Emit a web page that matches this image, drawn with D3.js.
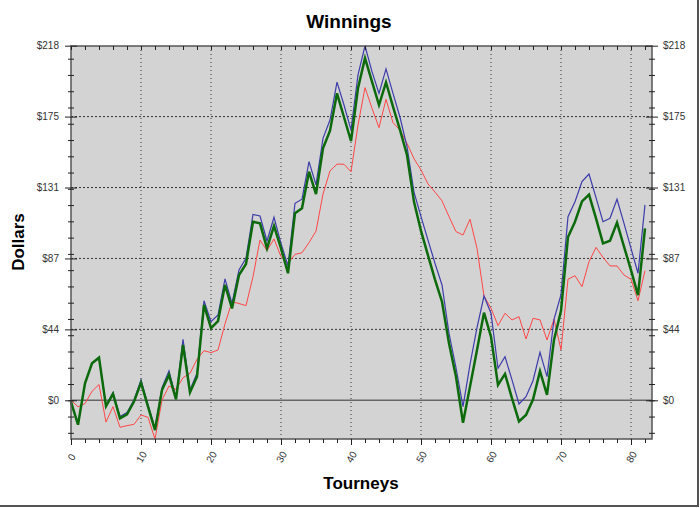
<!DOCTYPE html>
<html><head><meta charset="utf-8">
<script src="https://cdn.jsdelivr.net/npm/d3@7/dist/d3.min.js"></script>
<style>
body{margin:0;background:#fff}
svg{display:block}
text{font-family:"Liberation Sans",Arial,Helvetica,sans-serif}
</style>
</head><body>
<svg id="c" width="700" height="508"></svg>
<script>
// ---- data ----
const blueSeries = [-1,-15,10.4,22.7,26.2,-3.2,4.7,-10,-7.6,0.2,12.5,-2.9,-17.2,7.7,18,1.2,37.5,6.3,16.6,61.2,48.3,52.4,74.6,59.6,80.1,87.3,114.3,113.3,97.9,112.5,96.5,82.6,121.1,123.6,146.7,132.4,161,172.3,195.6,181.5,166.2,200,217.8,202,188.7,203.7,188.7,174,155.9,128,112.9,98.5,84.2,70.9,41.2,20,-3.9,22,44.6,64.1,53.5,19.7,26.8,12.5,-2.3,2.2,12,29.5,14.5,49.8,65,112.9,122.1,134.4,139.1,124.6,109.8,111.9,123.6,108.8,93.4,78.1,120.1];
const greenSeries = [-1,-15,10.4,22.7,26.2,-3.7,3.9,-11.1,-8.6,-0.8,10.8,-3.9,-18.3,6.3,15.6,0.6,34,4.9,14.5,58.6,44.3,48.7,70.9,56.5,77,83.8,109.8,108.8,93.4,107.2,93.4,78.1,115,118,140.5,126.8,154.9,165.7,188.7,174,159.4,191.8,210.3,195.9,181.5,195.5,180.5,166.2,150.8,122,104.1,89.1,74.2,60.6,35,14.5,-13.8,8.4,30.9,53.9,39.1,9.4,16.2,1.2,-13,-9,0.4,17.9,3.3,37.1,55,100.4,109.8,122.3,126.4,111.8,96.5,98.1,109.2,94.5,80,64.7,105.7];
const redSeries = [0,-4,-2,5.5,9.7,-13.4,-3.9,-16.6,-15.6,-14.8,-9,-10.5,-23.8,0.2,8.8,6.7,13.9,16.6,25.2,30.5,29.3,30.9,47,60.6,59.5,58.2,76,98.5,92,99.2,88.3,84.2,89.7,90.7,96.9,104,126.8,141,145.2,145.1,140.5,169.2,192.2,179.5,167.6,185,170.7,166,158,148.5,141.6,133,128,122.6,112.9,103.7,101.6,111.3,93.4,64.1,56.6,45.9,53.5,49.4,51.4,37.7,50.4,49.4,37.1,49.8,31,74.4,76.6,69.8,85.2,94,87.9,82.6,82.6,77,74.4,61.2,79.7];
const xTickValues = [0,10,20,30,40,50,60,70,80];
const xTickLabels = ["0","10","20","30","40","50","60","70","80"];
const yTickValues = [0,43.6,87.2,130.8,174.4,218];
const yTickLabels = ["$0","$44","$87","$131","$175","$218"];
const xMinorTicks = [0,2,4,6,8,10,12,14,16,18,20,22,24,26,28,30,32,34,36,38,40,42,44,46,48,50,52,54,56,58,60,62,64,66,68,70,72,74,76,78,80,82];
const yMinorTicks = [-20,-10,0,10,20,30,40,50,60,70,80,90,100,110,120,130,140,150,160,170,180,190,200,210];
const titleText = "Winnings", xTitle = "Tourneys", yTitle = "Dollars";

// ---- layout ----
const L = 71, R = 652, T = 46, B = 439;
const svg = d3.select("#c");
const all = blueSeries.concat(greenSeries, redSeries);
const x = d3.scaleLinear().domain([0, 83]).range([L, R]);
const y = d3.scaleLinear().domain([d3.min(all), d3.max(all)]).range([B, T]);

// outer frame (right & bottom edges)
svg.append("line").attr("x1",698).attr("x2",698).attr("y1",0).attr("y2",507).attr("stroke","#555").attr("stroke-width",2);
svg.append("line").attr("x1",0).attr("x2",699).attr("y1",506).attr("y2",506).attr("stroke","#555").attr("stroke-width",2);

// plot background
svg.append("rect").attr("x",L).attr("y",T).attr("width",R-L).attr("height",B-T).attr("fill","#d3d3d3");

// grid
const grid = svg.append("g");
grid.selectAll("line.v").data(xTickValues.filter(d=>d>0)).join("line")
  .attr("x1",d=>x(d)).attr("x2",d=>x(d)).attr("y1",T).attr("y2",B)
  .attr("stroke","#333").attr("stroke-width",1).attr("stroke-dasharray","1,3");
grid.selectAll("line.h").data(yTickValues.filter(d=>d>0 && d<218)).join("line")
  .attr("x1",L).attr("x2",R).attr("y1",d=>y(d)).attr("y2",d=>y(d))
  .attr("stroke","#333").attr("stroke-width",1).attr("stroke-dasharray","2,2");
grid.append("line").attr("x1",L).attr("x2",R).attr("y1",y(0)).attr("y2",y(0))
  .attr("stroke","#666").attr("stroke-width",1.5);

// lines
const line = d3.line().x((d,i)=>x(i)).y(d=>y(d));
const plot = svg.append("g");
plot.append("path").datum(redSeries).attr("d",line).attr("fill","none").attr("stroke","#ff4646").attr("stroke-width",1);
plot.append("path").datum(blueSeries).attr("d",line).attr("fill","none").attr("stroke","#3c3caa").attr("stroke-width",1.2);
plot.append("path").datum(greenSeries).attr("d",line).attr("fill","none").attr("stroke","#0c6a0c").attr("stroke-width",2.5);

// frame
svg.append("rect").attr("x",L).attr("y",T).attr("width",R-L).attr("height",B-T)
  .attr("fill","none").attr("stroke","#555").attr("stroke-width",1.5);

function styleAxis(g){
  g.select(".domain").remove();
  g.selectAll("line").attr("stroke","#222");
  g.selectAll("text").attr("fill","#333").style("font-size","10px").style("font-family",'"Liberation Sans",Arial,sans-serif');
}

// left axis
const gl = svg.append("g").attr("transform",`translate(${L},0)`)
  .call(d3.axisLeft(y).tickValues(yTickValues).tickFormat((d,i)=>yTickLabels[i]).tickSizeInner(6).tickSizeOuter(0).tickPadding(6));
gl.selectAll("line").attr("x1",6).attr("x2",-6);
styleAxis(gl);
const glm = svg.append("g").attr("transform",`translate(${L},0)`)
  .call(d3.axisLeft(y).tickValues(yMinorTicks).tickFormat("").tickSizeOuter(0));
glm.selectAll("line").attr("x1",3).attr("x2",-3);
styleAxis(glm);

// right axis
const gr = svg.append("g").attr("transform",`translate(${R},0)`)
  .call(d3.axisRight(y).tickValues(yTickValues).tickFormat((d,i)=>yTickLabels[i]).tickSizeInner(6).tickSizeOuter(0).tickPadding(5));
gr.selectAll("line").attr("x1",-6).attr("x2",6);
styleAxis(gr);
const grm = svg.append("g").attr("transform",`translate(${R},0)`)
  .call(d3.axisRight(y).tickValues(yMinorTicks).tickFormat("").tickSizeOuter(0));
grm.selectAll("line").attr("x1",-3).attr("x2",3);
styleAxis(grm);

// bottom axis
const gb = svg.append("g").attr("transform",`translate(0,${B})`)
  .call(d3.axisBottom(x).tickValues(xTickValues).tickFormat((d,i)=>xTickLabels[i]).tickSizeInner(6).tickSizeOuter(0).tickPadding(0));
styleAxis(gb);
gb.selectAll("text").attr("y",0).attr("dy",0)
  .attr("transform","translate(0,18) rotate(-60)").attr("text-anchor","middle").attr("dominant-baseline","central");
const gbm = svg.append("g").attr("transform",`translate(0,${B})`)
  .call(d3.axisBottom(x).tickValues(xMinorTicks).tickFormat("").tickSizeInner(4).tickSizeOuter(0));
styleAxis(gbm);

// top axis (inward ticks)
const gt = svg.append("g").attr("transform",`translate(0,${T})`)
  .call(d3.axisTop(x).tickValues(xMinorTicks).tickFormat("").tickSizeInner(-4).tickSizeOuter(0));
styleAxis(gt);

// titles
svg.append("text").attr("x",349).attr("y",28).attr("text-anchor","middle")
  .style("font-size","19px").style("font-weight","bold").attr("fill","#000").text(titleText);
svg.append("text").attr("x",361).attr("y",489).attr("text-anchor","middle")
  .style("font-size","17px").style("font-weight","bold").attr("fill","#000").text(xTitle);
svg.append("text").attr("transform","translate(24,242) rotate(-90)").attr("text-anchor","middle")
  .style("font-size","17px").style("font-weight","bold").attr("fill","#000").text(yTitle);
</script>
</body></html>
